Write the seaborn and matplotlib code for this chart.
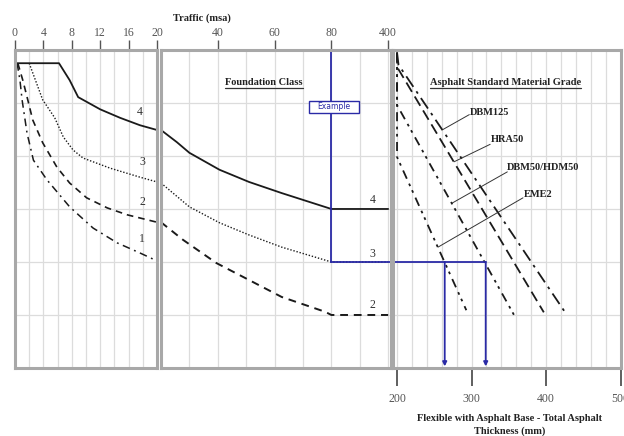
import matplotlib
matplotlib.use("Agg")
import matplotlib.pyplot as plt
from matplotlib.patches import Rectangle
from matplotlib.lines import Line2D
import seaborn as sns

# values read off the nomograph (y = chart units, 0 bottom .. 6 top)
# panel 1: traffic 0-20 msa
class4_x1 = [0, 6.2, 7.7, 8.9, 12, 14.8, 17.6, 20]
class4_y1 = [5.75, 5.75, 5.43, 5.11, 4.88, 4.72, 4.58, 4.49]
class3_x1 = [2.0, 3.9, 5.6, 6.8, 8.2, 9.6, 13.4, 17.6, 20]
class3_y1 = [5.75, 5.06, 4.72, 4.36, 4.11, 3.96, 3.77, 3.60, 3.51]
class2_x1 = [0.4, 1.1, 1.8, 2.5, 3.9, 5.9, 7.7, 10.1, 13, 15.8, 20]
class2_y1 = [5.75, 5.43, 5.06, 4.68, 4.25, 3.79, 3.49, 3.21, 3.02, 2.89, 2.75]
class1_x1 = [0.3, 0.7, 1.0, 1.7, 2.6, 4.5, 7.7, 11, 14.4, 17.6, 20]
class1_y1 = [5.75, 5.43, 5.06, 4.43, 3.92, 3.55, 3.04, 2.64, 2.36, 2.17, 2.02]
traffic_ticks1 = [0, 4, 8, 12, 16, 20]

# panel 2: traffic 20-80 msa, then 80-400 squeezed (100 on the axis = 400 msa)
class4_x2 = [20, 25.6, 30, 40.6, 51, 62.5, 80, 100]
class4_y2 = [4.49, 4.26, 4.06, 3.74, 3.51, 3.30, 3.0, 3.0]
class3_x2 = [20, 30, 40.6, 51, 62.5, 80, 100]
class3_y2 = [3.49, 3.04, 2.74, 2.51, 2.28, 2.0, 2.0]
class2_x2 = [20, 27.7, 39.5, 51, 62.5, 77.8, 80, 100]
class2_y2 = [2.75, 2.42, 1.98, 1.66, 1.34, 1.06, 1.0, 1.0]
traffic_ticks2 = [40, 60, 80, 100]
traffic_labels2 = ["40", "60", "80", "400"]

# panel 3: total asphalt thickness (mm) per material grade
grades = ["DBM125", "HRA50", "DBM50/HDM50", "EME2"]
grade_x = [[200, 202, 428], [200, 200, 397], [200, 200, 357], [200, 200, 293]]
grade_y = [[5.95, 5.72, 1.0], [5.95, 5.68, 1.05], [5.95, 4.96, 1.0], [5.95, 3.98, 1.09]]
thick_ticks = [200, 300, 400, 500]

# worked example: 80 msa, foundation class 3
example_traffic = 80
example_level = 2.0
example_thick = [264, 319]

sns.set_theme(style="white")
plt.rcParams["font.family"] = ["Liberation Serif", "DejaVu Serif"]

INK = "#1a1a1a"
BLUE = "#2a2aa6"
FRAME = "#a8a8a8"
GRID = "#dcdcdc"

fig = plt.figure(figsize=(6.24, 4.36), dpi=100)
ax1 = fig.add_axes([0.0240, 0.156, 0.2276, 0.7294])
ax2 = fig.add_axes([0.2580, 0.156, 0.3686, 0.7294])
ax3 = fig.add_axes([0.6303, 0.156, 0.3654, 0.7294])


def frame(ax, xlim, major, minor, top=True):
    ax.set_xlim(*xlim)
    ax.set_ylim(0, 6)
    for s in ax.spines.values():
        s.set_color(FRAME)
        s.set_linewidth(2.2)
        s.set_zorder(5)
    ax.set_yticks([1, 2, 3, 4, 5])
    ax.tick_params(axis="y", length=0, left=False, labelleft=False)
    ax.set_xticks(major)
    ax.set_xticks(minor, minor=True)
    if top:
        ax.tick_params(axis="x", which="major", top=True, labeltop=True,
                       bottom=False, labelbottom=False)
    else:
        ax.tick_params(axis="x", which="major", top=False, labeltop=False,
                       bottom=True, labelbottom=True)
    ax.tick_params(axis="x", which="major", direction="out", length=7, width=1,
                   color="#555555", labelsize=8.5, labelcolor="#555555", pad=1)
    ax.tick_params(axis="x", which="minor", length=0)
    ax.grid(True, which="both", color=GRID, lw=0.9)
    ax.set_axisbelow(True)


def curve(ax, x, y, ls, lw=1.2):
    sns.lineplot(x=x, y=y, ax=ax, color=INK, lw=lw, linestyle=ls,
                 sort=False, estimator=None)


frame(ax1, (0, 20), traffic_ticks1, range(0, 21, 2))
frame(ax2, (20, 101), traffic_ticks2, range(20, 101, 10))
ax2.set_xticklabels(traffic_labels2)
frame(ax3, (195, 501), thick_ticks, range(200, 501, 20), top=False)
ax3.tick_params(axis="x", which="major", length=13, width=1.2, color="#444444", pad=5)

dots = (0, (1, 1.3))
dash = (0, (4, 3))
dashdot = (0, (5, 3, 1.2, 3))

# panel 1 curves
curve(ax1, class4_x1, class4_y1, "-", 1.3)
curve(ax1, class3_x1, class3_y1, dots, 1.0)
curve(ax1, class2_x1, class2_y1, dash, 1.2)
curve(ax1, class1_x1, class1_y1, dashdot, 1.1)
for lab, (x, y) in zip("4321", [(17.6, 4.72), (17.9, 3.77), (17.9, 3.02), (17.9, 2.32)]):
    ax1.text(x, y, lab, ha="center", va="bottom", fontsize=8.5, color="#333333")

# panel 2 curves + example path
ax2.plot([example_traffic, example_traffic], [6, example_level], color=BLUE, lw=1.3, zorder=3)
ax2.plot([example_traffic, 103], [example_level, example_level], color=BLUE, lw=1.3,
         zorder=3, clip_on=False)
curve(ax2, class4_x2, class4_y2, "-", 1.3)
curve(ax2, class3_x2, class3_y2, dots, 1.0)
curve(ax2, class2_x2, class2_y2, dash, 1.4)
for lab, (x, y) in zip("432", [(94.6, 3.05), (94.6, 2.03), (94.6, 1.08)]):
    ax2.text(x, y, lab, ha="center", va="bottom", fontsize=8.5, color="#333333")
ax2.add_patch(Rectangle((72.2, 4.81), 17.7, 0.23, fc="white", ec=BLUE, lw=1, zorder=6))
ax2.text(81, 4.925, "Example", ha="center", va="center", fontsize=5.5, color=BLUE,
         family="DejaVu Sans", zorder=7)
t_found = ax2.text(56.2, 5.38, "Foundation Class", ha="center", va="center",
                   fontsize=7.5, weight="bold", color="#222222")

# panel 3 material grade lines
styles = [(0, (7, 3, 1.5, 3)), (0, (6, 3)), (0, (5, 3, 1.5, 2.5, 1.5, 3)),
          (0, (5, 3, 1.5, 2.5, 1.5, 3))]
for xs, ys, ls in zip(grade_x, grade_y, styles):
    curve(ax3, xs, ys, ls, 1.3)

ax3.plot([195, example_thick[1]], [example_level, example_level], color=BLUE, lw=1.3, zorder=3)
for th in example_thick:
    ax3.annotate("", xy=(th, 0.03), xytext=(th, example_level),
                 arrowprops=dict(arrowstyle="-|>", color=BLUE, lw=1.3,
                                 mutation_scale=6, shrinkA=0, shrinkB=0), zorder=3)

leaders = [((261.7, 4.50), (297, 4.78)), ((276.5, 3.89), (325, 4.22)),
           ((273.8, 3.11), (348, 3.70)), ((255, 2.28), (369, 3.21))]
label_pos = [(298, 4.82), (326, 4.31), (348, 3.78), (370.5, 3.27)]
for name, (p0, p1), (tx, ty) in zip(grades, leaders, label_pos):
    ax3.plot([p0[0], p1[0]], [p0[1], p1[1]], color="#333333", lw=0.7)
    ax3.text(tx, ty, name, ha="left", va="center", fontsize=7.5, weight="bold",
             color="#222222")
t_asph = ax3.text(345, 5.38, "Asphalt Standard Material Grade", ha="center",
                  va="center", fontsize=7.5, weight="bold", color="#222222")

fig.text(0.324, 0.959, "Traffic (msa)", ha="center", va="center", fontsize=7.5,
         weight="bold", color="#222222")
fig.text(0.817, 0.026, "Flexible with Asphalt Base - Total Asphalt\nThickness (mm)",
         ha="center", va="center", fontsize=7.5, weight="bold", color="#222222",
         linespacing=1.45)

# underline the two panel headings
fig.canvas.draw()
inv = fig.transFigure.inverted()
for t in (t_found, t_asph):
    bb = t.get_window_extent().transformed(inv)
    fig.add_artist(Line2D([bb.x0, bb.x1], [bb.y0 - 0.002, bb.y0 - 0.002],
                          color="#333333", lw=0.9))

fig.savefig("out.png", dpi=100)
